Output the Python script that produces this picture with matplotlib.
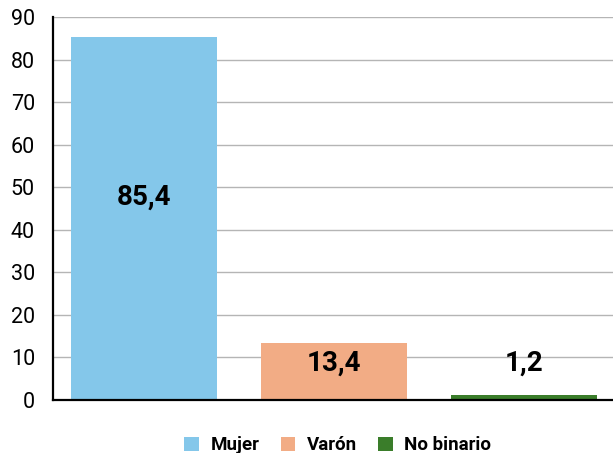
import matplotlib.pyplot as plt
from matplotlib.patches import Patch

plt.rcParams['font.family'] = ['Roboto', 'DejaVu Sans']

# datos
categorias = ['Mujer', 'Varón', 'No binario']
valores = [85.4, 13.4, 1.2]
colores = ['#84C7EA', '#F2AC85', '#3A7D2A']
yticks = [0, 10, 20, 30, 40, 50, 60, 70, 80, 90]

fig = plt.figure(figsize=(6.13, 4.53), dpi=100)
ax = fig.add_axes([0.0865, 0.117, 0.9135, 0.8455])

x = range(len(categorias))
bars = ax.bar(x, valores, width=0.77, color=colores, zorder=3)

# etiquetas de valor
for xi, v in zip(x, valores):
    txt = f'{v:.1f}'.replace('.', ',')
    if v > 50:
        y = v / 2 + 5
    elif v > 5:
        y = v / 2 + 2
    else:
        y = v + 7.5
    ax.text(xi, y, txt, ha='center', va='center', fontsize=20,
            fontweight='bold', color='black', zorder=4)

ax.set_ylim(0, 90)
ax.set_xlim(-0.48, 2.47)
ax.set_yticks(yticks)
ax.set_xticks([])
ax.tick_params(axis='y', length=0, pad=13, labelsize=15.5)
ax.grid(axis='y', color='#B5B5B5', linewidth=1, zorder=0)
for s in ['top', 'right']:
    ax.spines[s].set_visible(False)
for s in ['left', 'bottom']:
    ax.spines[s].set_linewidth(1.6)
    ax.spines[s].set_zorder(5)

handles = [Patch(facecolor=c, label=l) for c, l in zip(colores, categorias)]
fig.legend(handles=handles, loc='center', bbox_to_anchor=(0.551, 0.017),
           ncol=3, frameon=False, handlelength=0.78, handleheight=0.78,
           columnspacing=1.15, handletextpad=0.6, borderpad=0,
           prop={'weight': 'bold', 'size': 13.5})

fig.savefig('out.png', dpi=100)
